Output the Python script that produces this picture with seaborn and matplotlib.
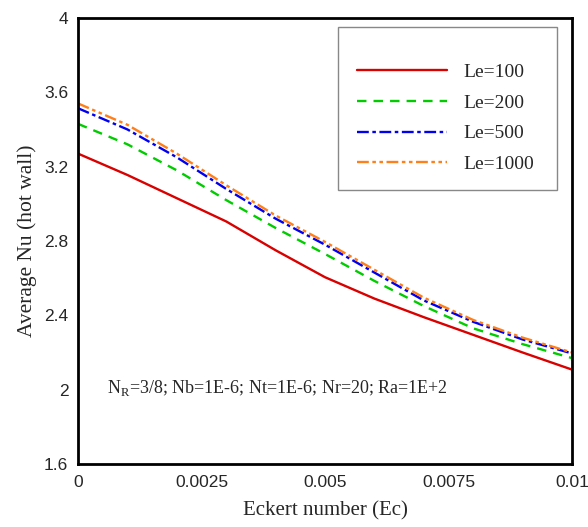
import numpy as np
import pandas as pd
import matplotlib
matplotlib.use("Agg")
import matplotlib.pyplot as plt
from matplotlib.patches import Rectangle
from matplotlib.ticker import MultipleLocator, FixedLocator
import seaborn as sns

# ---- data ----
ec = [0.0, 0.001, 0.002, 0.003, 0.004, 0.005, 0.006, 0.007, 0.008, 0.009, 0.010]
nu_le100 = [3.27, 3.155, 3.03, 2.905, 2.75, 2.605, 2.49, 2.39, 2.295, 2.20, 2.108]
nu_le200 = [3.43, 3.32, 3.18, 3.02, 2.87, 2.73, 2.585, 2.45, 2.33, 2.245, 2.17]
nu_le500 = [3.514, 3.40, 3.25, 3.08, 2.92, 2.78, 2.63, 2.48, 2.365, 2.27, 2.195]
nu_le1000 = [3.54, 3.425, 3.27, 3.10, 2.937, 2.795, 2.645, 2.495, 2.375, 2.28, 2.20]
labels = ["Le=100", "Le=200", "Le=500", "Le=1000"]
x_ticks = [0, 0.0025, 0.005, 0.0075, 0.01]
x_tick_labels = ["0", "0.0025", "0.005", "0.0075", "0.01"]
y_ticks = [1.6, 2.0, 2.4, 2.8, 3.2, 3.6, 4.0]
y_tick_labels = ["1.6", "2", "2.4", "2.8", "3.2", "3.6", "4"]

series = [nu_le100, nu_le200, nu_le500, nu_le1000]
colors = ["#d90000", "#00cc00", "#0000ee", "#ff7f1a"]
styles = ["-", (0, (4, 3)), (0, (5, 1.5, 1.5, 1.5)), (0, (5, 1.5, 1.5, 1.5, 1.5, 1.5))]

sns.set_style("white")
plt.rcParams["font.family"] = ["Liberation Serif", "DejaVu Serif"]

fig = plt.figure(figsize=(5.88, 5.27), dpi=100)
ax = fig.add_axes([0.1327, 0.1195, 0.8401, 0.8465])

for vals, lab, c, ls in zip(series, labels, colors, styles):
    df = pd.DataFrame({"Ec": ec, "Nu": vals})
    sns.lineplot(data=df, x="Ec", y="Nu", ax=ax, color=c, linestyle=ls,
                 linewidth=1.7, label=lab, legend=False)

ax.set_xlim(0, 0.01)
ax.set_ylim(1.6, 4.0)
ax.xaxis.set_major_locator(FixedLocator(x_ticks))
ax.set_xticklabels(x_tick_labels)
ax.yaxis.set_major_locator(FixedLocator(y_ticks))
ax.set_yticklabels(y_tick_labels)
ax.xaxis.set_minor_locator(MultipleLocator(0.0005))
ax.yaxis.set_minor_locator(MultipleLocator(0.08))

for lab in ax.get_xticklabels() + ax.get_yticklabels():
    lab.set_fontfamily("Liberation Sans")
    lab.set_fontsize(12.5)

ax.tick_params(which="major", direction="in", length=9, width=2, color="black",
               top=False, right=False, pad=7)
ax.tick_params(which="minor", direction="in", length=5, width=1.2, color="black",
               top=False, right=False)
ax.tick_params(axis="y", which="major", pad=7)
ax.tick_params(axis="x", which="major", pad=8)

for sp in ax.spines.values():
    sp.set_visible(True)
    sp.set_color("black")
    sp.set_linewidth(2.0)

ax.set_xlabel("Eckert number (Ec)", fontsize=15, labelpad=8)
ax.set_ylabel("Average Nu (hot wall)", fontsize=15.5, labelpad=5)

ax.text(0.00058, 2.01, r"N$_\mathregular{R}$=3/8; Nb=1E-6; Nt=1E-6; Nr=20; Ra=1E+2",
        fontsize=13, va="center", ha="left")

# legend box
ax.add_patch(Rectangle((0.527, 0.615), 0.443, 0.364, transform=ax.transAxes,
                       facecolor="white", edgecolor="#888888", linewidth=1.0, zorder=5))
leg = ax.legend(loc="upper left", bbox_to_anchor=(0.565, 0.898), frameon=False,
                fontsize=14, handlelength=4.6, handletextpad=0.85, labelspacing=0.67,
                borderpad=0, borderaxespad=0)
leg.set_zorder(6)

fig.savefig("out.png", dpi=100)
